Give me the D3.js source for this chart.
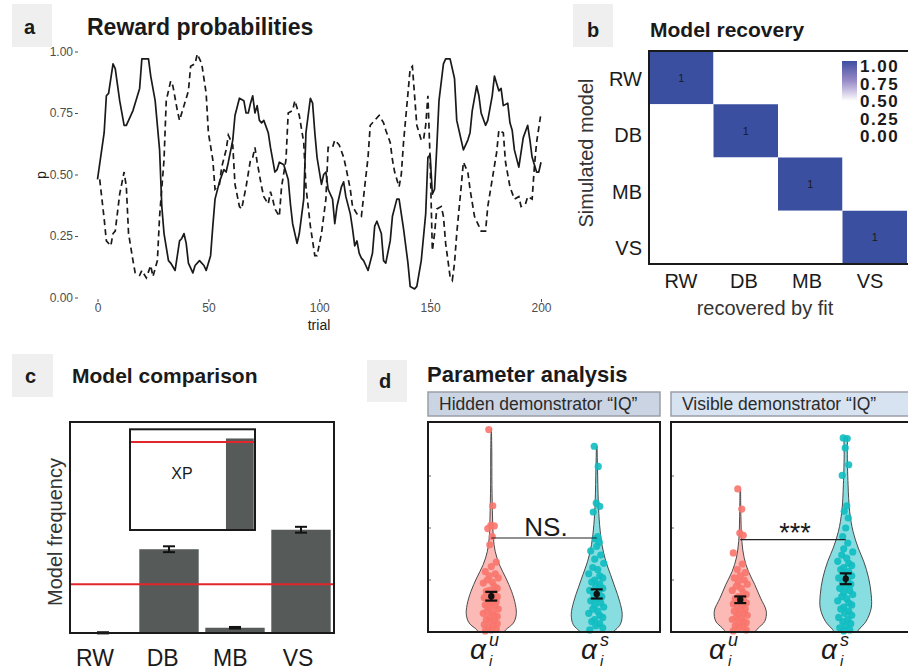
<!DOCTYPE html>
<html>
<head>
<meta charset="utf-8">
<script src="https://cdn.jsdelivr.net/npm/d3@7"></script>
<style>
  body { margin: 0; background: #fff; }
  text { font-family: "Liberation Sans", Arial, sans-serif; }
</style>
</head>
<body>
<script>
// ---- data -------------------------------------------------------------
const solidTrial = [0,3,4,5,7,8,10,12,13,16,19,20,23,24,26,28,29,30,32,33,35,37,38,39,40,41,43,44,46,48,49,51,52,53,55,57,58,59,61,62,64,66,67,68,69,70,71,72,73,74,75,77,78,80,81,82,84,86,87,88,90,91,93,94,96,97,98,99,101,102,103,104,106,107,108,110,111,112,114,115,116,117,118,119,120,121,122,124,125,126,128,129,130,132,133,135,136,137,138,140,141,143,144,146,148,149,150,151,152,153,154,156,157,159,161,162,164,165,167,168,169,171,172,173,175,176,178,179,180,181,182,183,185,186,187,188,190,191,192,194,195,196,198,199,200];
const solidP = [0.48,0.67,0.82,0.83,0.95,0.93,0.80,0.70,0.70,0.76,0.85,0.97,0.97,0.90,0.80,0.60,0.37,0.26,0.15,0.14,0.11,0.23,0.24,0.26,0.22,0.14,0.10,0.13,0.15,0.13,0.11,0.17,0.29,0.40,0.47,0.52,0.51,0.55,0.64,0.74,0.81,0.80,0.75,0.75,0.79,0.82,0.75,0.78,0.72,0.71,0.72,0.67,0.61,0.51,0.52,0.55,0.54,0.48,0.38,0.30,0.22,0.26,0.40,0.67,0.81,0.79,0.67,0.57,0.46,0.50,0.51,0.44,0.40,0.30,0.37,0.45,0.47,0.41,0.34,0.28,0.21,0.23,0.18,0.16,0.15,0.13,0.11,0.18,0.29,0.31,0.26,0.15,0.14,0.23,0.33,0.40,0.40,0.34,0.28,0.14,0.045,0.035,0.045,0.15,0.34,0.57,0.58,0.42,0.44,0.61,0.80,0.95,0.97,0.97,0.89,0.72,0.64,0.60,0.64,0.67,0.76,0.86,0.82,0.75,0.70,0.72,0.82,0.90,0.87,0.84,0.85,0.78,0.79,0.71,0.68,0.60,0.53,0.59,0.65,0.70,0.64,0.57,0.51,0.51,0.55];
const dashedTrial = [1,3,4,6,7,8,10,12,13,14,16,17,19,20,22,24,25,27,28,30,31,33,34,36,37,39,41,42,44,45,47,49,50,52,53,55,56,58,59,61,62,64,65,67,69,70,71,72,74,75,77,78,79,80,82,83,85,86,88,89,91,93,94,96,98,99,101,103,104,106,107,109,111,112,114,115,117,119,120,122,123,125,127,129,130,132,133,134,136,137,138,140,141,142,143,144,146,147,148,149,150,151,152,153,155,156,157,159,160,161,162,164,165,167,168,170,172,173,175,176,178,180,181,183,184,186,188,190,191,193,194,196,197,198,200];
const dashedP = [0.48,0.32,0.23,0.21,0.26,0.27,0.42,0.51,0.45,0.26,0.15,0.10,0.09,0.11,0.08,0.13,0.085,0.15,0.33,0.56,0.80,0.88,0.86,0.76,0.72,0.78,0.84,0.94,0.95,0.99,0.95,0.83,0.67,0.56,0.44,0.46,0.53,0.60,0.66,0.62,0.46,0.37,0.36,0.45,0.56,0.57,0.61,0.55,0.45,0.41,0.38,0.43,0.40,0.36,0.33,0.45,0.56,0.75,0.76,0.80,0.74,0.63,0.45,0.29,0.17,0.17,0.26,0.40,0.61,0.61,0.64,0.62,0.57,0.53,0.44,0.37,0.34,0.33,0.41,0.57,0.70,0.72,0.74,0.71,0.68,0.63,0.56,0.51,0.45,0.50,0.63,0.83,0.93,0.94,0.82,0.70,0.64,0.64,0.70,0.82,0.56,0.19,0.26,0.36,0.37,0.33,0.22,0.085,0.07,0.14,0.26,0.45,0.55,0.51,0.44,0.33,0.29,0.27,0.27,0.37,0.48,0.59,0.68,0.67,0.55,0.45,0.40,0.41,0.37,0.38,0.41,0.40,0.53,0.63,0.75];
const probTicks = [0, 0.25, 0.5, 0.75, 1];
const trialTicks = [0, 50, 100, 150, 200];

const models = ["RW", "DB", "MB", "VS"];
const recovery = [
  [1, 0, 0, 0],
  [0, 1, 0, 0],
  [0, 0, 1, 0],
  [0, 0, 0, 1]
];
const legendTicks = [1, 0.75, 0.5, 0.25, 0];

const modelFreq = [0.001, 0.43, 0.027, 0.53];
const modelFreqErr = [0.003, 0.015, 0.004, 0.015];
const xpValues = [0, 0.008, 0, 1];
const chanceLevel = 0.25;
const xpThreshold = 0.96;

const paramGroups = ["Hidden", "Visible"];
const paramStrips = ["Hidden demonstrator \u201cIQ\u201d", "Visible demonstrator \u201cIQ\u201d"];
const paramKinds = ["u", "s"];
const hiddenU = [0.973,0.607,0.513,0.51,0.497,0.459,0.419,0.336,0.315,0.29,0.28,0.27,0.26,0.25,0.24,0.235,0.22,0.21,0.2,0.195,0.19,0.18,0.17,0.165,0.16,0.15,0.145,0.14,0.13,0.125,0.12,0.11,0.1,0.095,0.09,0.08,0.075,0.07,0.06,0.055,0.05,0.04,0.035,0.03,0.02,0.015,0.01,0.005];
const hiddenS = [0.893,0.796,0.62,0.604,0.577,0.459,0.448,0.432,0.412,0.39,0.37,0.35,0.33,0.31,0.3,0.28,0.27,0.26,0.25,0.24,0.23,0.22,0.21,0.2,0.19,0.18,0.17,0.16,0.15,0.14,0.13,0.12,0.11,0.1,0.09,0.08,0.07,0.06,0.05,0.04,0.03,0.02,0.01];
const visibleU = [0.688,0.591,0.476,0.465,0.38,0.327,0.3,0.285,0.27,0.26,0.25,0.24,0.23,0.22,0.21,0.2,0.19,0.18,0.17,0.16,0.155,0.15,0.14,0.135,0.13,0.12,0.11,0.105,0.1,0.09,0.085,0.08,0.07,0.065,0.06,0.05,0.045,0.04,0.03,0.025,0.02,0.01,0.005];
const visibleS = [0.933,0.93,0.885,0.804,0.753,0.607,0.58,0.548,0.5,0.459,0.428,0.4,0.385,0.37,0.355,0.34,0.33,0.32,0.31,0.3,0.29,0.28,0.27,0.26,0.25,0.24,0.23,0.22,0.21,0.2,0.19,0.18,0.17,0.16,0.15,0.14,0.13,0.12,0.11,0.1,0.09,0.08,0.07,0.06,0.05,0.04,0.03,0.02,0.01,0.005];
// violin outlines: value level and relative half width
const hiddenUViolin = {v: [0,0.011,0.043,0.083,0.131,0.196,0.26,0.324,0.388,0.452,0.548,0.708,0.87,0.977], w: [0.5,0.56,0.85,0.96,0.93,0.78,0.56,0.31,0.15,0.08,0.05,0.025,0.02,0.006]};
const hiddenSViolin = {v: [0,0.035,0.083,0.148,0.212,0.276,0.34,0.42,0.516,0.628,0.789,0.893], w: [0.62,0.9,0.98,0.88,0.71,0.53,0.35,0.2,0.11,0.06,0.03,0.012]};
const visibleUViolin = {v: [0,0.019,0.051,0.1,0.163,0.227,0.292,0.356,0.436,0.548,0.684], w: [0.56,0.69,0.94,1.0,0.78,0.56,0.31,0.15,0.06,0.025,0.012]};
const visibleSViolin = {v: [0,0.011,0.051,0.115,0.179,0.26,0.34,0.404,0.484,0.58,0.708,0.869,0.936], w: [0.45,0.5,0.78,0.98,0.98,0.88,0.69,0.48,0.28,0.15,0.09,0.06,0.075]};
const paramMean = [0.172, 0.183, 0.155, 0.256];
const paramSE = [0.021, 0.022, 0.016, 0.026];
const sigLevel = [0.452, 0.444];
const sigLabel = ["NS.", "***"];

// ---- setup ------------------------------------------------------------
const svg = d3.select('body').append('svg')
  .attr('width', 908)
  .attr('height', 672);

svg.append('rect').attr('width', 908).attr('height', 672).attr('fill', '#fff');

function panelTag(x, y, w, h, letter, tx, ty) {
  svg.append('rect')
    .attr('x', x).attr('y', y).attr('width', w).attr('height', h)
    .attr('fill', '#efefef');
  svg.append('text')
    .attr('x', tx).attr('y', ty)
    .attr('font-size', '20px')
    .attr('font-weight', 'bold')
    .attr('fill', '#1a1a1a')
    .text(letter);
}

function panelTitle(x, y, size, label) {
  svg.append('text')
    .attr('x', x).attr('y', y)
    .attr('font-size', size)
    .attr('font-weight', 'bold')
    .attr('fill', '#1a1a1a')
    .text(label);
}

// ---- a: reward probabilities -----------------------------------------
panelTag(12, 4, 40, 43, 'a', 24, 34);
panelTitle(87, 34.5, '23px', 'Reward probabilities');

const xA = d3.scaleLinear().domain([0, 200]).range([97.5, 541]);
const yA = d3.scaleLinear().domain([0, 1]).range([297.5, 51.5]);

const gA = svg.append('g');

gA.append('g')
  .attr('transform', 'translate(78,0)')
  .call(d3.axisLeft(yA).tickValues(probTicks).tickFormat(d3.format('.2f')).tickSize(3).tickPadding(2))
  .call(g => g.select('.domain').remove());

gA.append('g')
  .attr('transform', 'translate(0,299)')
  .call(d3.axisBottom(xA).tickValues(trialTicks).tickSize(3).tickPadding(1))
  .call(g => g.select('.domain').remove());

gA.selectAll('.tick text')
  .attr('font-size', '12px')
  .attr('fill', '#4d4d4d')
  .attr('font-family', '"Liberation Sans", Arial, sans-serif');
gA.selectAll('.tick line').attr('stroke', '#4d4d4d');

const lineA = d3.line()
  .x(d => xA(d[0]))
  .y(d => yA(d[1]));

gA.append('path')
  .datum(d3.zip(solidTrial, solidP))
  .attr('d', lineA)
  .attr('fill', 'none')
  .attr('stroke', '#1a1a1a')
  .attr('stroke-width', 1.7)
  .attr('stroke-linejoin', 'round');

gA.append('path')
  .datum(d3.zip(dashedTrial, dashedP))
  .attr('d', lineA)
  .attr('fill', 'none')
  .attr('stroke', '#1a1a1a')
  .attr('stroke-width', 1.7)
  .attr('stroke-dasharray', '6,4');

gA.append('text')
  .attr('transform', 'translate(46,175) rotate(-90)')
  .attr('text-anchor', 'middle')
  .attr('font-size', '14px')
  .attr('fill', '#222')
  .text('p');

gA.append('text')
  .attr('x', 319).attr('y', 330)
  .attr('text-anchor', 'middle')
  .attr('font-size', '14px')
  .attr('fill', '#222')
  .text('trial');

// ---- b: model recovery -----------------------------------------------
panelTag(573, 4, 40, 43, 'b', 587, 36.5);
panelTitle(650, 36.7, '21px', 'Model recovery');

const xB = d3.scaleBand().domain(models).range([649, 907]);
const yB = d3.scaleBand().domain(models).range([51, 264]);
const xBLabel = d3.scalePoint().domain(models).range([681, 870]);
const yBLabel = d3.scalePoint().domain(models).range([79, 248]);
const colorB = d3.scaleLinear()
  .domain([0, 0.5, 0.75, 1])
  .range(['#ffffff', '#ffffff', '#9a8cc8', '#3b4fa1'])
  .interpolate(d3.interpolateLab);

const cells = [];
models.forEach((sim, i) => models.forEach((fit, j) => cells.push({sim, fit, value: recovery[i][j]})));

const gB = svg.append('g');

gB.selectAll('.cell')
  .data(cells)
  .enter()
  .append('rect')
  .attr('class', 'cell')
  .attr('x', d => xB(d.fit))
  .attr('y', d => yB(d.sim))
  .attr('width', xB.bandwidth())
  .attr('height', yB.bandwidth())
  .attr('fill', d => colorB(d.value));

gB.selectAll('.cell-label')
  .data(cells.filter(d => d.value > 0))
  .enter()
  .append('text')
  .attr('class', 'cell-label')
  .attr('x', d => xB(d.fit) + xB.bandwidth() / 2)
  .attr('y', d => yB(d.sim) + yB.bandwidth() / 2 + 4)
  .attr('text-anchor', 'middle')
  .attr('font-size', '11px')
  .attr('fill', '#1a1a1a')
  .text(d => d.value);

gB.append('rect')
  .attr('x', 649).attr('y', 51)
  .attr('width', 262).attr('height', 213)
  .attr('fill', 'none')
  .attr('stroke', '#1a1a1a')
  .attr('stroke-width', 2);

gB.selectAll('.ylab')
  .data(models)
  .enter()
  .append('text')
  .attr('x', 642)
  .attr('y', d => yBLabel(d) + 7)
  .attr('text-anchor', 'end')
  .attr('font-size', '20px')
  .attr('fill', '#1a1a1a')
  .text(d => d);

gB.selectAll('.xlab')
  .data(models)
  .enter()
  .append('text')
  .attr('x', d => xBLabel(d))
  .attr('y', 288)
  .attr('text-anchor', 'middle')
  .attr('font-size', '20px')
  .attr('fill', '#1a1a1a')
  .text(d => d);

gB.append('text')
  .attr('transform', 'translate(593,153) rotate(-90)')
  .attr('text-anchor', 'middle')
  .attr('font-size', '20px')
  .attr('fill', '#333')
  .text('Simulated model');

gB.append('text')
  .attr('x', 765).attr('y', 315)
  .attr('text-anchor', 'middle')
  .attr('font-size', '20px')
  .attr('fill', '#333')
  .text('recovered by fit');

// legend
const legY = d3.scaleLinear().domain([0, 1]).range([136, 66]);
const grad = svg.append('defs').append('linearGradient')
  .attr('id', 'recGrad')
  .attr('x1', 0).attr('y1', 1).attr('x2', 0).attr('y2', 0);
d3.range(0, 1.0001, 0.05).forEach(t => {
  grad.append('stop').attr('offset', t).attr('stop-color', colorB(t));
});
gB.append('rect')
  .attr('x', 842).attr('y', legY(1) - 5)
  .attr('width', 15).attr('height', legY(0) - legY(1) + 10)
  .attr('fill', 'url(#recGrad)');
gB.selectAll('.leg')
  .data(legendTicks)
  .enter()
  .append('text')
  .attr('x', 860)
  .attr('y', d => legY(d) + 6)
  .attr('font-size', '17px')
  .attr('font-weight', 'bold')
  .attr('letter-spacing', '1.5px')
  .attr('fill', '#1a1a1a')
  .text(d => d3.format('.2f')(d));

// ---- c: model comparison ---------------------------------------------
panelTag(12, 354, 41, 43, 'c', 25, 383);
panelTitle(72, 383, '21px', 'Model comparison');

const xC = d3.scaleBand().domain(models).range([70, 334]).paddingInner(0.1).paddingOuter(0.05);
const yC = d3.scaleLinear().domain([0, 1.083]).range([633, 422]);
const xCLabel = d3.scalePoint().domain(models).range([95, 298]);
const freqData = models.map((m, i) => ({model: m, value: modelFreq[i], err: modelFreqErr[i], xp: xpValues[i]}));

const gC = svg.append('g');

gC.selectAll('.bar')
  .data(freqData)
  .enter()
  .append('rect')
  .attr('class', 'bar')
  .attr('x', d => xC(d.model))
  .attr('y', d => yC(d.value))
  .attr('width', xC.bandwidth())
  .attr('height', d => yC(0) - yC(d.value))
  .attr('fill', '#565b5a');

const errC = gC.selectAll('.err')
  .data(freqData)
  .enter()
  .append('g')
  .attr('transform', d => `translate(${xC(d.model) + xC.bandwidth() / 2},0)`);
errC.append('line')
  .attr('y1', d => yC(d.value - d.err)).attr('y2', d => yC(d.value + d.err))
  .attr('stroke', '#111').attr('stroke-width', 2);
errC.append('line')
  .attr('x1', -6).attr('x2', 6)
  .attr('y1', d => yC(d.value - d.err)).attr('y2', d => yC(d.value - d.err))
  .attr('stroke', '#111').attr('stroke-width', 2);
errC.append('line')
  .attr('x1', -6).attr('x2', 6)
  .attr('y1', d => yC(d.value + d.err)).attr('y2', d => yC(d.value + d.err))
  .attr('stroke', '#111').attr('stroke-width', 2);

gC.append('line')
  .attr('x1', 70).attr('x2', 334)
  .attr('y1', yC(chanceLevel)).attr('y2', yC(chanceLevel))
  .attr('stroke', '#e3262b').attr('stroke-width', 2);

// inset: exceedance probability
const xI = d3.scaleBand().domain(models).range([130, 255]).paddingInner(0.12).paddingOuter(0.04);
const yI = d3.scaleLinear().domain([0, 1.1]).range([530, 429.3]);

gC.append('rect')
  .attr('x', 130).attr('y', 429.3)
  .attr('width', 125).attr('height', 100.7)
  .attr('fill', '#fff');

gC.selectAll('.xpbar')
  .data(freqData)
  .enter()
  .append('rect')
  .attr('class', 'xpbar')
  .attr('x', d => xI(d.model))
  .attr('y', d => yI(d.xp))
  .attr('width', xI.bandwidth())
  .attr('height', d => yI(0) - yI(d.xp))
  .attr('fill', '#565b5a');

gC.append('line')
  .attr('x1', 130).attr('x2', 255)
  .attr('y1', yI(xpThreshold)).attr('y2', yI(xpThreshold))
  .attr('stroke', '#e3262b').attr('stroke-width', 2);

gC.append('rect')
  .attr('x', 130).attr('y', 429.3)
  .attr('width', 125).attr('height', 100.7)
  .attr('fill', 'none')
  .attr('stroke', '#1a1a1a')
  .attr('stroke-width', 2);

gC.append('text')
  .attr('x', 182).attr('y', 478.5)
  .attr('text-anchor', 'middle')
  .attr('font-size', '16px')
  .attr('fill', '#1a1a1a')
  .text('XP');

gC.append('rect')
  .attr('x', 70).attr('y', 422)
  .attr('width', 264).attr('height', 211)
  .attr('fill', 'none')
  .attr('stroke', '#1a1a1a')
  .attr('stroke-width', 2);

gC.selectAll('.xlab')
  .data(models)
  .enter()
  .append('text')
  .attr('x', d => xCLabel(d))
  .attr('y', 666)
  .attr('text-anchor', 'middle')
  .attr('font-size', '23px')
  .attr('fill', '#1a1a1a')
  .text(d => d);

gC.append('text')
  .attr('transform', 'translate(62,532) rotate(-90)')
  .attr('text-anchor', 'middle')
  .attr('font-size', '20px')
  .attr('fill', '#333')
  .text('Model frequency');

// ---- d: parameter analysis -------------------------------------------
panelTag(367, 360, 40, 42, 'd', 379, 388);
panelTitle(427, 382, '22px', 'Parameter analysis');

const yD = d3.scaleLinear().domain([0, 1]).range([632, 424]);
const wD = d3.scaleLinear().domain([0, 1]).range([0, 26]);
const frames = [{x0: 428, x1: 660}, {x0: 671, x1: 930}];
const xD = [
  d3.scalePoint().domain(paramKinds).range([428, 660]).padding(0.6),
  d3.scalePoint().domain(paramKinds).range([677, 909]).padding(0.6)
];
const labelX = [
  d3.scalePoint().domain(paramKinds).range([478, 589]),
  d3.scalePoint().domain(paramKinds).range([717, 829])
];
const groups = [
  {panel: 0, kind: 'u', pts: hiddenU, violin: hiddenUViolin},
  {panel: 0, kind: 's', pts: hiddenS, violin: hiddenSViolin},
  {panel: 1, kind: 'u', pts: visibleU, violin: visibleUViolin},
  {panel: 1, kind: 's', pts: visibleS, violin: visibleSViolin}
];
const kindColor = {u: '#f8766d', s: '#0fbcc1'};
const jitter = [-5, 3, -1, 6, -7, 2, -3, 5, 0, -6, 4, -2, 7, -4, 1, -8, 3, 6, -2];

const gD = svg.append('g');

// strips
frames.forEach((f, i) => {
  gD.append('rect')
    .attr('x', f.x0).attr('y', 392)
    .attr('width', f.x1 - f.x0).attr('height', 24)
    .attr('fill', i === 0 ? '#cbd4e2' : '#d8e3f2')
    .attr('stroke', '#9a9fa8')
    .attr('stroke-width', 1.5);
  gD.append('text')
    .attr('x', f.x0 + 11).attr('y', 410)
    .attr('font-size', '17.5px')
    .attr('fill', '#2a2a2a')
    .text(paramStrips[i]);
  // tick marks on left
  [0.25, 0.5, 0.75].forEach(t => {
    gD.append('line')
      .attr('x1', f.x0).attr('x2', f.x0 + 3)
      .attr('y1', yD(t)).attr('y2', yD(t))
      .attr('stroke', '#666');
  });
});

const areaD = d3.area().curve(d3.curveCatmullRom);

groups.forEach((g, gi) => {
  const cx = xD[g.panel](g.kind);
  const prof = g.violin.v.map((v, k) => [v, g.violin.w[k]]);
  gD.append('path')
    .datum(prof)
    .attr('d', areaD
      .y(d => yD(d[0]))
      .x0(d => cx - wD(d[1]))
      .x1(d => cx + wD(d[1])))
    .attr('fill', kindColor[g.kind])
    .attr('fill-opacity', 0.5)
    .attr('stroke', '#4a4a4a')
    .attr('stroke-width', 1);

  gD.selectAll('.pt' + gi)
    .data(g.pts)
    .enter()
    .append('circle')
    .attr('cx', (d, i) => cx + jitter[i % jitter.length] * (d > 0.4 ? 0.5 : 1))
    .attr('cy', d => yD(d))
    .attr('r', 3.6)
    .attr('fill', kindColor[g.kind])
    .attr('fill-opacity', 0.9);

  const m = paramMean[gi], se = paramSE[gi];
  const eb = gD.append('g').attr('stroke', '#111').attr('stroke-width', 2.2);
  eb.append('line').attr('x1', cx).attr('x2', cx).attr('y1', yD(m - se)).attr('y2', yD(m + se));
  eb.append('line').attr('x1', cx - 6).attr('x2', cx + 6).attr('y1', yD(m - se)).attr('y2', yD(m - se));
  eb.append('line').attr('x1', cx - 6).attr('x2', cx + 6).attr('y1', yD(m + se)).attr('y2', yD(m + se));
  gD.append('circle').attr('cx', cx).attr('cy', yD(m)).attr('r', 3.2).attr('fill', '#111');

  // axis label alpha_i^kind
  const lx = labelX[g.panel](g.kind);
  gD.append('text')
    .attr('x', lx).attr('y', 659)
    .attr('text-anchor', 'middle')
    .attr('font-family', '"DejaVu Serif", serif')
    .attr('font-style', 'italic')
    .attr('font-size', '28px')
    .attr('fill', '#1a1a1a')
    .text('\u03b1');
  gD.append('text')
    .attr('x', lx + 11).attr('y', 646)
    .attr('font-family', '"DejaVu Serif", serif')
    .attr('font-style', 'italic')
    .attr('font-size', '18px')
    .attr('fill', '#1a1a1a')
    .text(g.kind);
  gD.append('text')
    .attr('x', lx + 11).attr('y', 666)
    .attr('font-family', '"DejaVu Serif", serif')
    .attr('font-style', 'italic')
    .attr('font-size', '15px')
    .attr('fill', '#1a1a1a')
    .text('i');
});

// significance bars
paramGroups.forEach((p, i) => {
  const x1 = xD[i]('u'), x2 = xD[i]('s');
  gD.append('line')
    .attr('x1', x1).attr('x2', x2)
    .attr('y1', yD(sigLevel[i])).attr('y2', yD(sigLevel[i]))
    .attr('stroke', '#222').attr('stroke-width', 1.2);
  gD.append('text')
    .attr('x', (x1 + x2) / 2 + 2)
    .attr('y', yD(sigLevel[i]) - (i === 0 ? 2 : -2))
    .attr('text-anchor', 'middle')
    .attr('font-size', i === 0 ? '26px' : '27px')
    .attr('fill', '#1a1a1a')
    .text(sigLabel[i]);
});

frames.forEach(f => {
  gD.append('rect')
    .attr('x', f.x0).attr('y', 422)
    .attr('width', f.x1 - f.x0).attr('height', 210)
    .attr('fill', 'none')
    .attr('stroke', '#1a1a1a')
    .attr('stroke-width', 2);
});
</script>
</body>
</html>
